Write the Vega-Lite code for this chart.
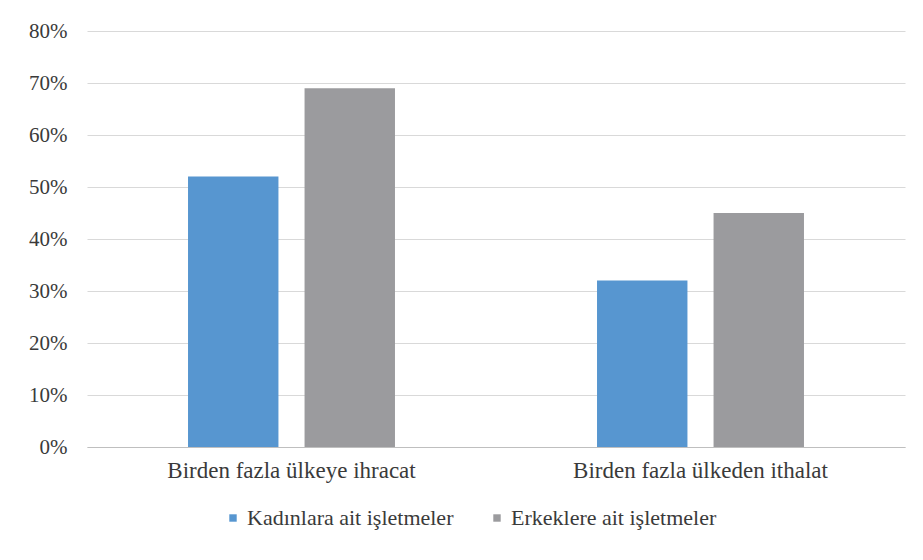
{
  "$schema": "https://vega.github.io/schema/vega-lite/v6.json",
  "width": 818,
  "height": 416,
  "autosize": {"type": "none"},
  "padding": {"left": 87, "top": 31, "right": 18, "bottom": 113},
  "background": "white",
  "data": {
    "values": [
      {"kategori": "Birden fazla ülkeye ihracat", "grup": "Kadınlara ait işletmeler", "deger": 0.52},
      {"kategori": "Birden fazla ülkeye ihracat", "grup": "Erkeklere ait işletmeler", "deger": 0.69},
      {"kategori": "Birden fazla ülkeden ithalat", "grup": "Kadınlara ait işletmeler", "deger": 0.32},
      {"kategori": "Birden fazla ülkeden ithalat", "grup": "Erkeklere ait işletmeler", "deger": 0.45}
    ]
  },
  "mark": {"type": "bar"},
  "encoding": {
    "x": {
      "field": "kategori", "type": "nominal",
      "sort": ["Birden fazla ülkeye ihracat", "Birden fazla ülkeden ithalat"],
      "scale": {"paddingInner": 0.494, "paddingOuter": 0.247},
      "axis": {"title": null, "labelAngle": 0, "ticks": false, "domainColor": "#bfbfbf", "labelPadding": 12, "labelFontSize": 23, "labelLimit": 0, "labelFont": "Liberation Serif", "labelColor": "#3a3a3a"}
    },
    "xOffset": {
      "field": "grup", "type": "nominal",
      "sort": ["Kadınlara ait işletmeler", "Erkeklere ait işletmeler"],
      "scale": {"paddingInner": 0.224, "paddingOuter": 0}
    },
    "y": {
      "field": "deger", "type": "quantitative",
      "scale": {"domain": [0, 0.8], "nice": false},
      "axis": {"title": null, "format": ".0%", "values": [0, 0.1, 0.2, 0.3, 0.4, 0.5, 0.6, 0.7, 0.8], "ticks": false, "domain": false, "labelPadding": 20, "labelFontSize": 21, "labelFont": "Liberation Serif", "labelColor": "#3a3a3a", "gridColor": "#d9d9d9"}
    },
    "color": {
      "field": "grup", "type": "nominal",
      "sort": ["Kadınlara ait işletmeler", "Erkeklere ait işletmeler"],
      "scale": {"domain": ["Kadınlara ait işletmeler", "Erkeklere ait işletmeler"], "range": ["#5796D0", "#9B9B9E"]},
      "legend": {"title": null, "orient": "none", "direction": "horizontal", "legendX": 135, "legendY": 476, "symbolType": "square", "symbolSize": 55, "labelFontSize": 22, "labelLimit": 0, "labelFont": "Liberation Serif", "labelColor": "#3a3a3a", "symbolOffset": 0, "labelOffset": 3, "columnPadding": 32}
    }
  },
  "config": {
    "view": {"stroke": null},
    "font": "Liberation Serif"
  }
}
